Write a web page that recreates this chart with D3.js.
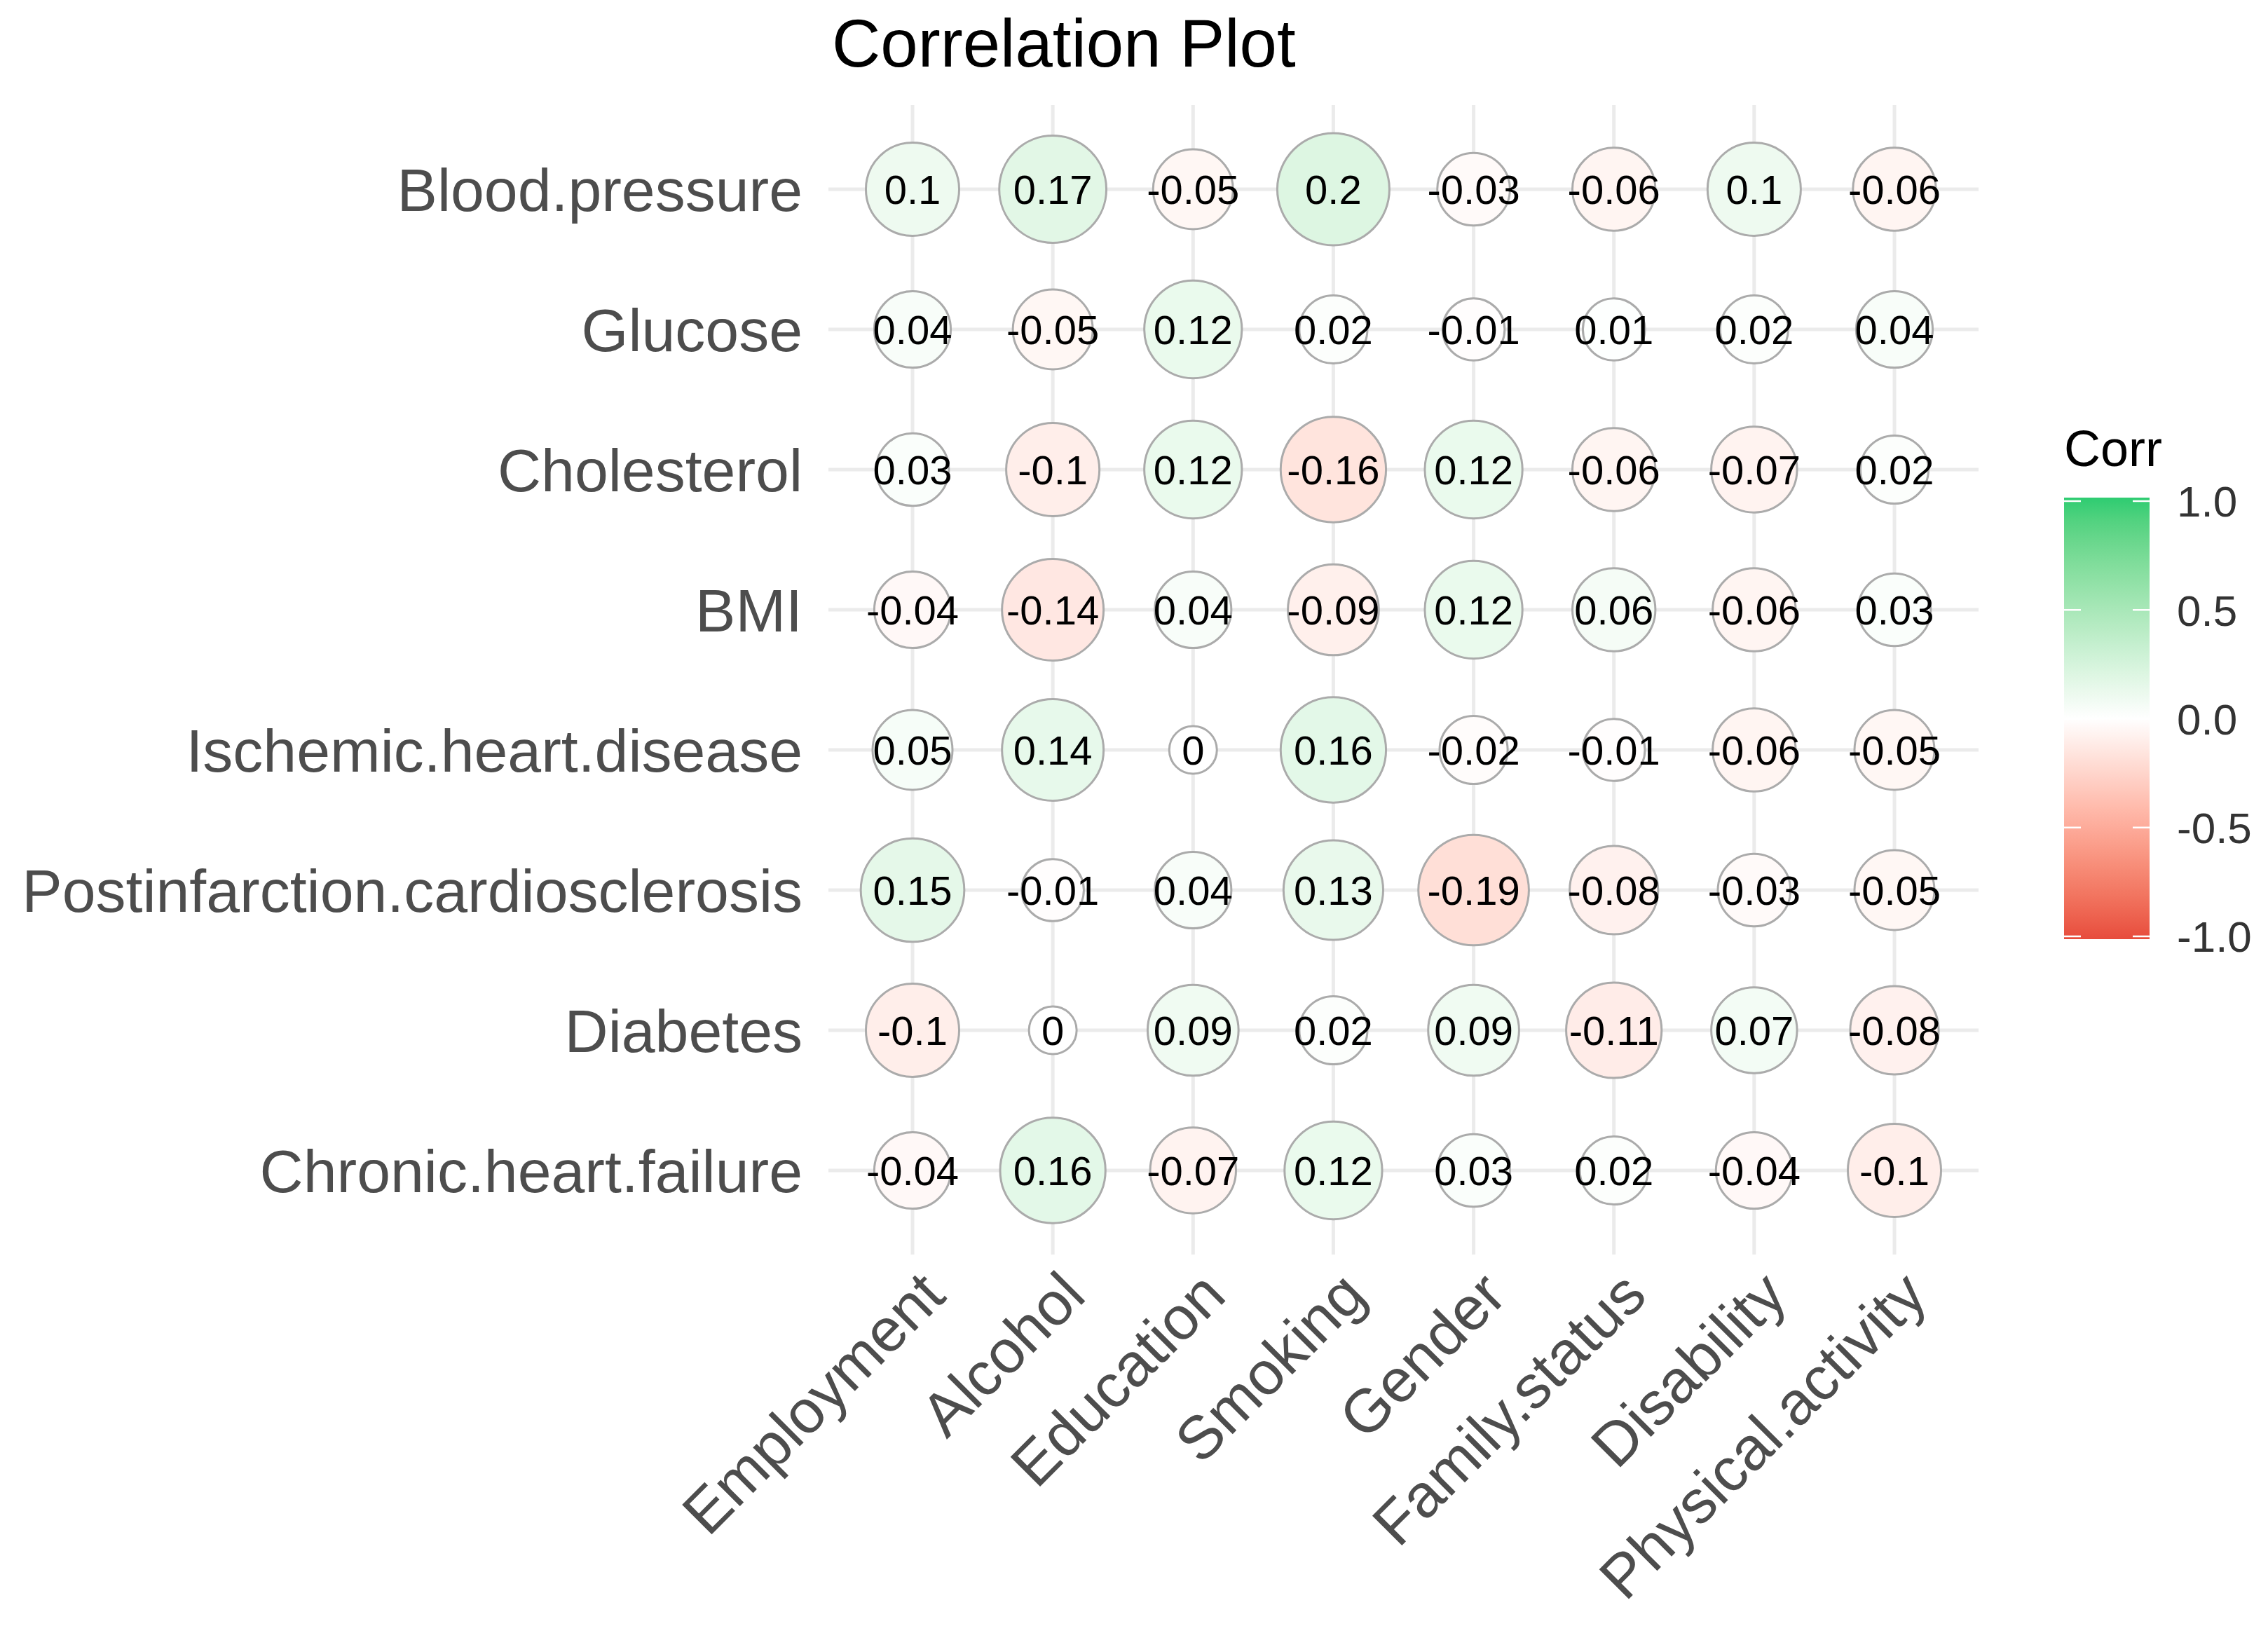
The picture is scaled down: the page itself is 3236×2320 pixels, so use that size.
<!DOCTYPE html>
<html>
<head>
<meta charset="utf-8">
<script src="https://cdn.jsdelivr.net/npm/d3@7"></script>
<style>
  html, body { margin: 0; padding: 0; background: #ffffff; }
  svg { display: block; font-family: "Liberation Sans", Arial, sans-serif; }
</style>
</head>
<body>
<svg id="chart" width="3236" height="2320"></svg>
<script>
// ---- data ----
const columns = ["Employment", "Alcohol", "Education", "Smoking", "Gender", "Family.status", "Disability", "Physical.activity"];
const rows = ["Blood.pressure", "Glucose", "Cholesterol", "BMI", "Ischemic.heart.disease", "Postinfarction.cardiosclerosis", "Diabetes", "Chronic.heart.failure"];
const bloodPressure   = [0.1, 0.17, -0.05, 0.2, -0.03, -0.06, 0.1, -0.06];
const glucose         = [0.04, -0.05, 0.12, 0.02, -0.01, 0.01, 0.02, 0.04];
const cholesterol     = [0.03, -0.1, 0.12, -0.16, 0.12, -0.06, -0.07, 0.02];
const bmi             = [-0.04, -0.14, 0.04, -0.09, 0.12, 0.06, -0.06, 0.03];
const ischemic        = [0.05, 0.14, 0, 0.16, -0.02, -0.01, -0.06, -0.05];
const postinfarction  = [0.15, -0.01, 0.04, 0.13, -0.19, -0.08, -0.03, -0.05];
const diabetes        = [-0.1, 0, 0.09, 0.02, 0.09, -0.11, 0.07, -0.08];
const chronicHF       = [-0.04, 0.16, -0.07, 0.12, 0.03, 0.02, -0.04, -0.1];
const rowValues = [bloodPressure, glucose, cholesterol, bmi, ischemic, postinfarction, diabetes, chronicHF];
const legendTicks = [1.0, 0.5, 0.0, -0.5, -1.0];
const legendTickLabels = ["1.0", "0.5", "0.0", "-0.5", "-1.0"];
const titleText = "Correlation Plot";
const legendTitle = "Corr";

// ---- build cells ----
const cells = [];
rows.forEach((r, i) => columns.forEach((c, j) => cells.push({row: r, col: c, value: rowValues[i][j]})));

const svg = d3.select("#chart");
svg.append("rect").attr("width", 3236).attr("height", 2320).attr("fill", "#ffffff");

// panel geometry
const panel = {left: 1182, right: 2823, top: 150, bottom: 1790};
const x = d3.scalePoint().domain(columns).range([panel.left + 120, panel.right - 120]);
const y = d3.scalePoint().domain(rows).range([panel.top + 120, panel.bottom - 120]);

const color = d3.scaleLinear().domain([-1, 0, 1]).range(["#E74C3C", "#FFFFFF", "#2ECC71"]).interpolate(d3.interpolateLab);
const maxAbs = d3.max(cells, d => Math.abs(d.value));
const radius = d3.scaleSqrt().domain([0, maxAbs]).range([34, 80]);

// grid lines
const grid = svg.append("g");
grid.selectAll("line.v").data(columns).join("line")
  .attr("x1", d => x(d)).attr("x2", d => x(d))
  .attr("y1", panel.top).attr("y2", panel.bottom)
  .attr("stroke", "#EBEBEB").attr("stroke-width", 5);
grid.selectAll("line.h").data(rows).join("line")
  .attr("y1", d => y(d)).attr("y2", d => y(d))
  .attr("x1", panel.left).attr("x2", panel.right)
  .attr("stroke", "#EBEBEB").attr("stroke-width", 5);

// circles
svg.append("g").selectAll("circle").data(cells).join("circle")
  .attr("cx", d => x(d.col)).attr("cy", d => y(d.row))
  .attr("r", d => radius(Math.abs(d.value)))
  .attr("fill", d => color(d.value))
  .attr("stroke", "#ABABAB").attr("stroke-width", 3);

// labels in cells
svg.append("g").selectAll("text").data(cells).join("text")
  .attr("x", d => x(d.col)).attr("y", d => y(d.row))
  .attr("text-anchor", "middle").attr("dy", "0.36em")
  .attr("font-size", 58).attr("fill", "#000000")
  .text(d => String(d.value));

// row axis labels
svg.append("g").selectAll("text").data(rows).join("text")
  .attr("x", 1145).attr("y", d => y(d))
  .attr("text-anchor", "end").attr("dy", "0.36em")
  .attr("font-size", 86).attr("fill", "#4D4D4D")
  .text(d => d);

// column axis labels (rotated)
svg.append("g").selectAll("text").data(columns).join("text")
  .attr("transform", d => `translate(${x(d) + 6},1808) rotate(-45)`)
  .attr("text-anchor", "end").attr("dy", "0.72em")
  .attr("font-size", 87).attr("fill", "#4D4D4D")
  .text(d => d);

// title
svg.append("text").attr("x", 1187).attr("y", 95)
  .attr("font-size", 96).attr("fill", "#000000").text(titleText);

// legend
const lg = {left: 2945, width: 122, top: 710, bottom: 1340};
const ly = d3.scaleLinear().domain([-1, 1]).range([1336, 715]);
const defs = svg.append("defs");
const grad = defs.append("linearGradient").attr("id", "corrGrad")
  .attr("x1", 0).attr("y1", 1).attr("x2", 0).attr("y2", 0);
d3.range(-1, 1.0001, 0.1).forEach(v => {
  grad.append("stop").attr("offset", (v + 1) / 2).attr("stop-color", color(v));
});
svg.append("rect").attr("x", lg.left).attr("y", lg.top)
  .attr("width", lg.width).attr("height", lg.bottom - lg.top)
  .attr("fill", "url(#corrGrad)");
const tickG = svg.append("g");
legendTicks.forEach(t => {
  tickG.append("line").attr("x1", lg.left).attr("x2", lg.left + 24)
    .attr("y1", ly(t)).attr("y2", ly(t)).attr("stroke", "#ffffff").attr("stroke-width", 2.5);
  tickG.append("line").attr("x1", lg.left + lg.width - 24).attr("x2", lg.left + lg.width)
    .attr("y1", ly(t)).attr("y2", ly(t)).attr("stroke", "#ffffff").attr("stroke-width", 2.5);
});
svg.append("g").selectAll("text").data(legendTicks).join("text")
  .attr("x", 3106).attr("y", d => ly(d)).attr("dy", "0.36em")
  .attr("font-size", 62).attr("fill", "#333333")
  .text((d, i) => legendTickLabels[i]);
svg.append("text").attr("x", 2945).attr("y", 665)
  .attr("font-size", 72).attr("fill", "#000000").text(legendTitle);
</script>
</body>
</html>
